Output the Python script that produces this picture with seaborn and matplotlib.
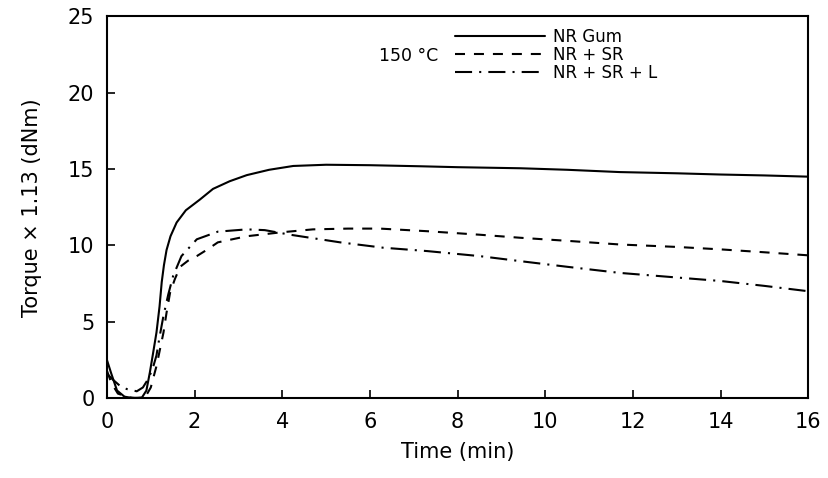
import numpy as np
import pandas as pd
import matplotlib
matplotlib.use("Agg")
import matplotlib.pyplot as plt
import seaborn as sns

# Cure curves at 150 °C: torque (x 1.13, dNm) versus time (min)
t_gum = [0, 0.1, 0.23, 0.4, 0.6, 0.8, 0.9, 0.98, 1.05, 1.13, 1.2, 1.25, 1.3, 1.36,
         1.45, 1.59, 1.8, 2.12, 2.42, 2.8, 3.19, 3.7, 4.25, 5.0, 6.0, 7.15, 8.0,
         9.43, 10.5, 11.7, 13.0, 14.0, 15.0, 16.0]
y_gum = [2.5, 1.6, 0.5, 0.1, 0.0, 0.05, 0.5, 1.7, 2.9, 4.3, 6.0, 7.6, 8.7, 9.7,
         10.6, 11.5, 12.3, 13.0, 13.7, 14.2, 14.6, 14.95, 15.2, 15.28, 15.25, 15.18,
         15.12, 15.05, 14.95, 14.8, 14.72, 14.64, 14.58, 14.5]

t_sr = [0, 0.1, 0.25, 0.5, 0.75, 0.9, 1.0, 1.13, 1.21, 1.29, 1.36, 1.44, 1.55, 1.67,
        1.85, 2.05, 2.3, 2.53, 3.19, 3.95, 4.7, 5.5, 6.23, 7.3, 8.5, 9.43, 10.5,
        11.7, 13.0, 14.0, 15.0, 16.0]
y_sr = [1.8, 1.0, 0.3, 0.05, 0.0, 0.2, 0.7, 2.1, 3.2, 4.3, 5.6, 6.9, 7.8, 8.6,
        9.0, 9.3, 9.75, 10.2, 10.6, 10.85, 11.05, 11.1, 11.1, 10.93, 10.7, 10.5,
        10.3, 10.06, 9.9, 9.74, 9.55, 9.35]

t_srl = [0, 0.14, 0.3, 0.45, 0.68, 0.82, 0.95, 1.05, 1.13, 1.2, 1.29, 1.4, 1.51,
         1.7, 2.05, 2.53, 3.19, 3.6, 4.18, 5.32, 6.3, 7.3, 8.5, 9.43, 10.5, 11.7,
         13.0, 14.0, 15.0, 16.0]
y_srl = [1.6, 1.2, 0.8, 0.6, 0.45, 0.7, 1.3, 2.0, 2.8, 4.0, 5.4, 6.8, 8.0,
         9.3, 10.4, 10.9, 11.05, 11.0, 10.7, 10.2, 9.85, 9.63, 9.3, 8.97, 8.6, 8.2,
         7.9, 7.67, 7.35, 7.0]

labels = ["NR Gum", "NR + SR", "NR + SR + L"]
x_ticks = [0, 2, 4, 6, 8, 10, 12, 14, 16]
y_ticks = [0, 5, 10, 15, 20, 25]

frames = []
for lab, t, y in zip(labels, [t_gum, t_sr, t_srl], [y_gum, y_sr, y_srl]):
    frames.append(pd.DataFrame({"Time": t, "Torque": y, "Sample": lab}))
df = pd.concat(frames, ignore_index=True)

sns.set_theme(style="ticks")
plt.rcParams["font.family"] = ["DejaVu Sans"]
plt.rcParams["text.color"] = "black"
plt.rcParams["axes.labelcolor"] = "black"

fig = plt.figure(figsize=(8.29, 4.78), dpi=100)
ax = fig.add_axes([0.129, 0.167, 0.846, 0.799])

sns.lineplot(data=df, x="Time", y="Torque", hue="Sample", style="Sample",
             hue_order=labels, style_order=labels,
             palette=["black"] * 3,
             dashes={"NR Gum": "", "NR + SR": (4.8, 4.3),
                     "NR + SR + L": (8.2, 3.4, 1.0, 3.4)},
             linewidth=1.5, sort=False, estimator=None, ax=ax)

ax.set_xlim(0, 16)
ax.set_ylim(0, 25)
ax.set_xticks(x_ticks)
ax.set_yticks(y_ticks)
ax.tick_params(direction="in", length=6, width=1.2, labelsize=15, colors="black")
ax.tick_params(axis="x", pad=10)
ax.tick_params(axis="y", pad=9)
for s in ax.spines.values():
    s.set_visible(True)
    s.set_linewidth(1.5)
    s.set_color("black")

ax.set_xlabel("Time (min)", fontsize=15, labelpad=7)
ax.set_ylabel("Torque × 1.13 (dNm)", fontsize=15, labelpad=19)

ax.text(6.2, 22.4, "150 °C", fontsize=12.5, ha="left", va="center")
leg = ax.legend(loc="upper left", bbox_to_anchor=(0.48, 1.0), frameon=False,
                fontsize=12, handlelength=5.4, handletextpad=0.45, labelspacing=0.0,
                borderaxespad=0.3, title=None)

fig.savefig("out.png", dpi=100)
